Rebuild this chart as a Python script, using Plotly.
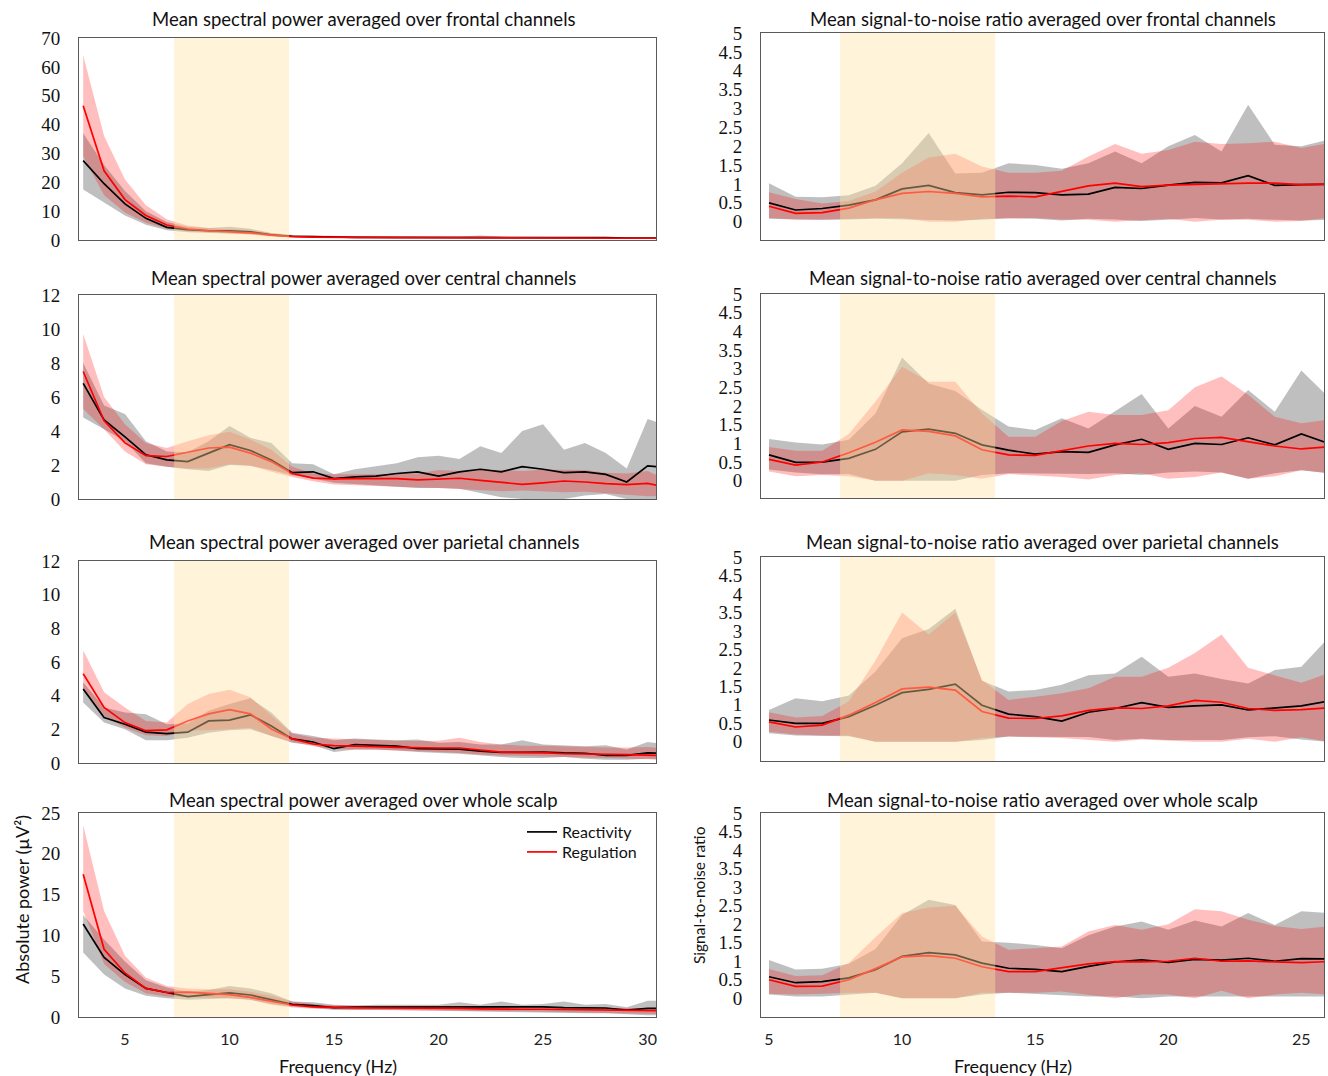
import plotly.graph_objects as go

# Frequency grids (Hz)
FREQ_POWER = list(range(3, 32))
FREQ_SNR = list(range(5, 27))
POWER_XTICKS = [5, 10, 15, 20, 25, 30]
SNR_XTICKS = [5, 10, 15, 20, 25]
ALPHA_POWER = (7.35, 12.85)
ALPHA_SNR = (7.67, 13.5)

# ---------------- Spectral power (µV²) ----------------
pow_frontal_react = [27.5, 19.5, 12.5, 7.5, 4.4, 3.6, 3.2, 3.2, 2.8, 1.8, 1.3, 1.1, 1.0, 0.9, 0.9, 0.9, 0.9, 0.9, 0.9, 0.9, 1.0, 0.9, 0.9, 0.8, 0.8, 0.8, 0.7, 0.6, 0.6]
pow_frontal_react_lo = [17.5, 13.0, 8.5, 5.3, 3.4, 2.7, 2.4, 2.3, 2.0, 1.3, 1.0, 0.8, 0.75, 0.7, 0.7, 0.7, 0.7, 0.7, 0.7, 0.7, 0.7, 0.7, 0.7, 0.65, 0.6, 0.6, 0.55, 0.5, 0.5]
pow_frontal_react_hi = [37.0, 26.0, 17.0, 10.0, 6.2, 4.6, 4.2, 4.6, 3.9, 2.4, 1.7, 1.5, 1.3, 1.2, 1.1, 1.1, 1.1, 1.2, 1.2, 1.6, 1.2, 1.1, 1.1, 1.0, 1.0, 1.0, 0.9, 0.8, 0.8]
pow_frontal_reg = [46.5, 24.0, 14.0, 8.5, 5.2, 3.8, 3.2, 2.9, 2.5, 1.7, 1.2, 1.0, 0.9, 0.8, 0.8, 0.8, 0.8, 0.8, 0.8, 0.8, 0.8, 0.8, 0.8, 0.8, 0.7, 0.7, 0.7, 0.6, 0.6]
pow_frontal_reg_lo = [29.0, 15.5, 9.5, 6.0, 4.0, 3.0, 2.5, 2.2, 1.9, 1.2, 0.9, 0.75, 0.7, 0.65, 0.6, 0.6, 0.6, 0.6, 0.6, 0.55, 0.6, 0.6, 0.55, 0.55, 0.5, 0.5, 0.5, 0.45, 0.45]
pow_frontal_reg_hi = [64.0, 36.0, 21.0, 12.0, 7.2, 5.0, 4.2, 3.8, 3.3, 2.3, 1.6, 1.3, 1.2, 1.1, 1.0, 1.0, 1.0, 1.0, 1.0, 1.1, 1.0, 1.0, 1.0, 1.0, 0.9, 0.9, 0.9, 0.8, 0.8]

pow_central_react = [6.8, 4.65, 3.65, 2.6, 2.3, 2.2, 2.7, 3.2, 2.85, 2.3, 1.55, 1.6, 1.2, 1.3, 1.35, 1.5, 1.6, 1.35, 1.6, 1.75, 1.6, 1.9, 1.75, 1.55, 1.6, 1.45, 1.0, 1.95, 1.85]
pow_central_react_lo = [4.8, 4.1, 3.4, 2.1, 1.9, 1.75, 1.65, 2.0, 1.95, 1.7, 1.4, 1.2, 0.95, 0.85, 0.8, 0.72, 0.65, 0.65, 0.6, 0.35, 0.1, 0.0, 0.0, 0.0, 0.2, 0.3, 0.0, 0.0, 0.0]
pow_central_react_hi = [8.0, 5.5, 5.0, 3.4, 2.8, 2.75, 3.4, 4.3, 3.6, 3.3, 2.1, 2.05, 1.45, 1.75, 1.92, 2.1, 2.45, 2.55, 2.35, 3.1, 2.7, 4.0, 4.4, 2.9, 3.3, 2.7, 1.8, 4.7, 4.3]
pow_central_reg = [7.5, 4.6, 3.3, 2.55, 2.5, 2.75, 3.0, 3.05, 2.7, 2.2, 1.5, 1.23, 1.18, 1.2, 1.22, 1.2, 1.12, 1.15, 1.22, 1.1, 0.98, 0.86, 0.95, 1.06, 1.0, 0.9, 0.85, 0.92, 0.65]
pow_central_reg_lo = [5.3, 4.1, 2.8, 2.05, 1.9, 1.8, 1.8, 2.05, 1.95, 1.6, 1.3, 1.05, 0.85, 0.78, 0.75, 0.72, 0.68, 0.65, 0.62, 0.52, 0.45, 0.5, 0.45, 0.4, 0.42, 0.35, 0.25, 0.16, 0.15]
pow_central_reg_hi = [9.7, 6.0, 4.4, 3.3, 3.0, 3.4, 3.75, 3.95, 3.5, 2.9, 1.9, 1.5, 1.45, 1.45, 1.45, 1.5, 1.5, 1.7, 1.65, 1.7, 1.7, 1.65, 1.72, 1.72, 1.7, 1.55, 1.5, 1.65, 1.1]

pow_parietal_react = [4.4, 2.7, 2.3, 1.83, 1.75, 1.83, 2.5, 2.55, 2.86, 2.2, 1.43, 1.25, 0.85, 1.1, 1.05, 1.0, 0.85, 0.83, 0.83, 0.7, 0.63, 0.63, 0.65, 0.6, 0.58, 0.45, 0.45, 0.6, 0.57]
pow_parietal_react_lo = [3.6, 2.4, 2.0, 1.35, 1.35, 1.5, 1.8, 1.95, 2.0, 1.6, 1.2, 1.05, 0.65, 0.8, 0.8, 0.75, 0.65, 0.6, 0.55, 0.45, 0.35, 0.3, 0.3, 0.35, 0.25, 0.2, 0.2, 0.25, 0.2]
pow_parietal_react_hi = [4.8, 3.3, 3.0, 2.9, 2.3, 2.35, 3.1, 3.5, 3.85, 3.0, 1.8, 1.6, 1.35, 1.45, 1.4, 1.35, 1.4, 1.2, 1.25, 1.1, 1.1, 1.35, 1.1, 1.05, 1.0, 1.05, 0.8, 1.25, 1.1]
pow_parietal_reg = [5.3, 3.3, 2.4, 1.92, 1.97, 2.5, 2.92, 3.17, 2.92, 2.02, 1.43, 1.13, 1.03, 0.98, 0.97, 0.93, 0.9, 0.89, 0.89, 0.75, 0.65, 0.63, 0.62, 0.55, 0.55, 0.52, 0.5, 0.47, 0.44]
pow_parietal_reg_lo = [4.3, 2.8, 2.1, 1.65, 1.6, 1.9, 1.95, 2.0, 2.1, 1.6, 1.25, 1.0, 0.85, 0.8, 0.78, 0.75, 0.7, 0.65, 0.6, 0.5, 0.45, 0.42, 0.4, 0.35, 0.33, 0.3, 0.28, 0.22, 0.2]
pow_parietal_reg_hi = [6.7, 4.2, 3.3, 2.5, 2.4, 3.5, 4.1, 4.35, 3.9, 2.8, 1.75, 1.5, 1.45, 1.38, 1.35, 1.32, 1.3, 1.32, 1.5, 1.25, 1.1, 1.03, 1.03, 0.98, 0.93, 0.92, 0.92, 0.95, 0.83]

pow_whole_react = [11.4, 7.3, 5.2, 3.5, 3.0, 2.5, 2.75, 2.95, 2.7, 2.1, 1.55, 1.4, 1.15, 1.2, 1.2, 1.2, 1.25, 1.2, 1.25, 1.2, 1.25, 1.2, 1.25, 1.15, 1.1, 1.1, 0.85, 1.05, 1.05]
pow_whole_react_lo = [7.9, 5.2, 3.5, 2.6, 2.3, 2.1, 2.2, 2.3, 2.1, 1.6, 1.3, 1.1, 0.9, 0.85, 0.85, 0.85, 0.8, 0.75, 0.7, 0.65, 0.6, 0.55, 0.5, 0.5, 0.45, 0.45, 0.35, 0.2, 0.2]
pow_whole_react_hi = [12.5, 9.5, 6.8, 4.5, 3.6, 3.1, 3.3, 3.8, 3.5, 2.9, 1.9, 1.8, 1.5, 1.4, 1.5, 1.5, 1.5, 1.5, 1.8, 1.5, 1.9, 1.5, 1.6, 1.9, 1.5, 1.6, 1.2, 2.0, 2.0]
pow_whole_reg = [17.5, 8.3, 5.4, 3.5, 3.0, 3.05, 2.9, 2.75, 2.4, 1.9, 1.47, 1.25, 1.15, 1.12, 1.1, 1.1, 1.08, 1.07, 1.05, 1.0, 0.95, 0.95, 0.95, 0.93, 0.9, 0.88, 0.85, 0.78, 0.75]
pow_whole_reg_lo = [13.0, 6.5, 4.3, 2.9, 2.5, 2.4, 2.35, 2.3, 2.1, 1.5, 1.15, 1.0, 0.9, 0.85, 0.85, 0.85, 0.8, 0.8, 0.75, 0.75, 0.7, 0.7, 0.65, 0.6, 0.6, 0.55, 0.5, 0.4, 0.35]
pow_whole_reg_hi = [23.5, 13.0, 7.5, 4.8, 3.8, 3.5, 3.4, 3.4, 3.1, 2.6, 1.9, 1.6, 1.4, 1.35, 1.35, 1.35, 1.3, 1.3, 1.3, 1.25, 1.2, 1.2, 1.2, 1.15, 1.15, 1.1, 1.1, 1.05, 1.0]

# ---------------- Signal-to-noise ratio ----------------
snr_frontal_react = [0.50, 0.31, 0.35, 0.44, 0.58, 0.87, 0.96, 0.77, 0.71, 0.78, 0.77, 0.71, 0.73, 0.91, 0.88, 0.97, 1.04, 1.03, 1.22, 0.96, 0.98, 0.99]
snr_frontal_react_lo = [0.08, 0.06, 0.05, 0.06, 0.08, 0.08, 0.05, 0.03, 0.05, 0.10, 0.08, 0.03, 0.08, 0.06, 0.02, 0.05, 0.10, 0.06, 0.08, 0.05, 0.03, 0.05]
snr_frontal_react_hi = [1.02, 0.66, 0.65, 0.70, 0.95, 1.55, 2.35, 1.28, 1.30, 1.55, 1.50, 1.40, 1.55, 1.86, 1.55, 2.00, 2.30, 1.86, 3.10, 2.04, 2.00, 2.17]
snr_frontal_reg = [0.41, 0.22, 0.24, 0.36, 0.58, 0.75, 0.80, 0.75, 0.66, 0.68, 0.66, 0.81, 0.95, 1.02, 0.93, 0.97, 0.99, 1.00, 1.02, 1.02, 0.98, 1.00]
snr_frontal_reg_lo = [0.10, 0.06, 0.05, 0.08, 0.10, 0.10, 0.00, 0.00, 0.08, 0.08, 0.10, 0.06, 0.05, 0.00, 0.03, 0.08, 0.00, 0.05, 0.05, 0.00, 0.02, 0.10]
snr_frontal_reg_hi = [0.78, 0.60, 0.48, 0.55, 0.80, 1.30, 1.70, 1.80, 1.46, 1.30, 1.30, 1.35, 1.73, 2.06, 1.80, 1.90, 2.12, 2.06, 2.08, 2.12, 1.95, 2.08]

snr_central_react = [0.69, 0.49, 0.50, 0.60, 0.84, 1.31, 1.38, 1.27, 0.96, 0.82, 0.71, 0.78, 0.76, 0.96, 1.11, 0.84, 1.00, 0.97, 1.15, 0.96, 1.25, 1.00]
snr_central_react_lo = [0.30, 0.22, 0.17, 0.18, 0.00, 0.00, 0.00, 0.00, 0.15, 0.20, 0.20, 0.18, 0.18, 0.20, 0.15, 0.22, 0.25, 0.22, 0.05, 0.20, 0.28, 0.20]
snr_central_react_hi = [1.12, 1.02, 0.97, 1.10, 1.80, 3.30, 2.60, 2.40, 1.90, 1.45, 1.36, 1.67, 1.40, 1.85, 2.32, 1.40, 2.00, 1.71, 2.43, 1.85, 2.95, 2.25]
snr_central_reg = [0.57, 0.42, 0.50, 0.75, 1.03, 1.36, 1.32, 1.20, 0.83, 0.69, 0.68, 0.80, 0.93, 1.00, 0.97, 1.02, 1.13, 1.16, 1.05, 0.93, 0.85, 0.91]
snr_central_reg_lo = [0.25, 0.12, 0.15, 0.12, 0.00, 0.00, 0.20, 0.15, 0.05, 0.18, 0.15, 0.10, 0.03, 0.15, 0.20, 0.05, 0.10, 0.22, 0.05, 0.12, 0.28, 0.20]
snr_central_reg_hi = [0.90, 0.80, 0.80, 1.25, 2.12, 3.05, 2.65, 2.65, 1.80, 1.18, 1.18, 1.60, 1.85, 1.76, 1.76, 1.89, 2.50, 2.79, 2.30, 1.71, 1.54, 1.63]

snr_parietal_react = [0.59, 0.50, 0.50, 0.68, 0.99, 1.33, 1.42, 1.56, 0.99, 0.75, 0.68, 0.56, 0.80, 0.90, 1.06, 0.93, 0.97, 1.00, 0.86, 0.92, 0.97, 1.10]
snr_parietal_react_lo = [0.23, 0.17, 0.15, 0.15, 0.00, 0.00, 0.00, 0.00, 0.05, 0.14, 0.15, 0.13, 0.13, 0.05, 0.08, 0.05, 0.05, 0.05, 0.12, 0.15, 0.06, 0.00]
snr_parietal_react_hi = [0.86, 1.18, 1.10, 1.25, 1.90, 2.80, 3.05, 3.60, 1.65, 1.36, 1.40, 1.54, 1.80, 1.85, 2.30, 1.76, 1.85, 1.70, 1.58, 1.94, 2.03, 2.80]
snr_parietal_reg = [0.54, 0.40, 0.45, 0.72, 1.06, 1.43, 1.48, 1.40, 0.82, 0.64, 0.63, 0.70, 0.85, 0.92, 0.90, 0.97, 1.12, 1.07, 0.90, 0.85, 0.87, 0.92]
snr_parietal_reg_lo = [0.27, 0.20, 0.17, 0.17, 0.00, 0.00, 0.00, 0.00, 0.10, 0.14, 0.12, 0.10, 0.06, 0.00, 0.06, 0.02, 0.00, 0.00, 0.08, 0.00, 0.12, 0.00]
snr_parietal_reg_hi = [0.80, 0.66, 0.70, 1.10, 2.20, 3.50, 2.90, 3.50, 1.67, 1.13, 1.22, 1.31, 1.45, 1.76, 1.76, 2.00, 2.40, 2.90, 2.00, 1.80, 1.60, 1.85]

snr_whole_react = [0.58, 0.42, 0.45, 0.55, 0.77, 1.13, 1.23, 1.17, 0.95, 0.81, 0.78, 0.72, 0.86, 0.98, 1.04, 0.97, 1.05, 1.03, 1.08, 1.00, 1.07, 1.06]
snr_whole_react_lo = [0.10, 0.05, 0.05, 0.10, 0.15, 0.00, 0.00, 0.00, 0.10, 0.15, 0.12, 0.08, 0.05, 0.05, 0.00, 0.05, 0.05, 0.05, 0.05, 0.05, 0.05, 0.05]
snr_whole_react_hi = [1.03, 0.78, 0.80, 0.93, 1.33, 2.25, 2.66, 2.52, 1.53, 1.50, 1.44, 1.35, 1.70, 1.94, 2.07, 1.85, 2.10, 1.94, 2.30, 1.98, 2.35, 2.30]
snr_whole_reg = [0.50, 0.32, 0.33, 0.50, 0.80, 1.12, 1.15, 1.08, 0.85, 0.72, 0.72, 0.82, 0.93, 0.99, 0.98, 1.00, 1.08, 1.00, 1.01, 0.98, 0.96, 0.99]
snr_whole_reg_lo = [0.12, 0.10, 0.12, 0.15, 0.15, 0.00, 0.00, 0.00, 0.15, 0.15, 0.15, 0.18, 0.10, 0.00, 0.10, 0.10, 0.00, 0.20, 0.00, 0.10, 0.15, 0.10]
snr_whole_reg_hi = [0.79, 0.60, 0.62, 0.95, 1.65, 2.30, 2.45, 2.50, 1.67, 1.31, 1.35, 1.40, 1.80, 1.98, 1.85, 2.00, 2.40, 2.35, 2.12, 1.95, 1.87, 1.94]

SNR_YTICKS = [0, 0.5, 1, 1.5, 2, 2.5, 3, 3.5, 4, 4.5, 5]

W, H = 1328, 1076
LEFT_DOMAIN = [79 / W, 656 / W]
RIGHT_DOMAIN = [761 / W, 1324 / W]


def ydom(top_px, bottom_px):
    return [1 - bottom_px / H, 1 - top_px / H]


panels = [
    dict(title="Mean spectral power averaged over frontal channels", kind="power",
         data=(pow_frontal_react, pow_frontal_react_lo, pow_frontal_react_hi,
               pow_frontal_reg, pow_frontal_reg_lo, pow_frontal_reg_hi),
         yrange=[0, 70], yticks=list(range(0, 71, 10)), ydomain=ydom(38, 240), title_y=19),
    dict(title="Mean signal-to-noise ratio averaged over frontal channels", kind="snr",
         data=(snr_frontal_react, snr_frontal_react_lo, snr_frontal_react_hi,
               snr_frontal_reg, snr_frontal_reg_lo, snr_frontal_reg_hi),
         yrange=[-0.485, 5], yticks=SNR_YTICKS, ydomain=ydom(33, 240), title_y=19),
    dict(title="Mean spectral power averaged over central channels", kind="power",
         data=(pow_central_react, pow_central_react_lo, pow_central_react_hi,
               pow_central_reg, pow_central_reg_lo, pow_central_reg_hi),
         yrange=[0, 12], yticks=list(range(0, 13, 2)), ydomain=ydom(295, 499), title_y=278),
    dict(title="Mean signal-to-noise ratio averaged over central channels", kind="snr",
         data=(snr_central_react, snr_central_react_lo, snr_central_react_hi,
               snr_central_reg, snr_central_reg_lo, snr_central_reg_hi),
         yrange=[-0.463, 5], yticks=SNR_YTICKS, ydomain=ydom(294, 498), title_y=278),
    dict(title="Mean spectral power averaged over parietal channels", kind="power",
         data=(pow_parietal_react, pow_parietal_react_lo, pow_parietal_react_hi,
               pow_parietal_reg, pow_parietal_reg_lo, pow_parietal_reg_hi),
         yrange=[0, 12], yticks=list(range(0, 13, 2)), ydomain=ydom(561, 763), title_y=542),
    dict(title="Mean signal-to-noise ratio averaged over parietal channels", kind="snr",
         data=(snr_parietal_react, snr_parietal_react_lo, snr_parietal_react_hi,
               snr_parietal_reg, snr_parietal_reg_lo, snr_parietal_reg_hi),
         yrange=[-0.52, 5], yticks=SNR_YTICKS, ydomain=ydom(557, 761), title_y=542),
    dict(title="Mean spectral power averaged over whole scalp", kind="power",
         data=(pow_whole_react, pow_whole_react_lo, pow_whole_react_hi,
               pow_whole_reg, pow_whole_reg_lo, pow_whole_reg_hi),
         yrange=[0, 25], yticks=list(range(0, 26, 5)), ydomain=ydom(813, 1017), title_y=800,
         bottom=True, legend=True),
    dict(title="Mean signal-to-noise ratio averaged over whole scalp", kind="snr",
         data=(snr_whole_react, snr_whole_react_lo, snr_whole_react_hi,
               snr_whole_reg, snr_whole_reg_lo, snr_whole_reg_hi),
         yrange=[-0.505, 5], yticks=SNR_YTICKS, ydomain=ydom(813, 1017), title_y=800,
         bottom=True),
]

GRAY_BAND = "rgba(0,0,0,0.25)"
RED_BAND = "rgba(255,0,0,0.25)"
ALPHA_FILL = "rgba(255,228,160,0.4)"
TITLE_FONT = dict(family="Lato", size=18.5, color="#111")
TICK_FONT = dict(family="Liberation Serif", size=19, color="#111")
XTICK_FONT = dict(family="Lato", size=16, color="#222")
LABEL_FONT = dict(family="Lato", size=18, color="#111")
LEGEND_FONT = dict(family="Lato", size=16, color="#111")

fig = go.Figure()
layout = {}
shapes = []
annotations = []

for i, p in enumerate(panels):
    k = i + 1
    xa = "x" if k == 1 else f"x{k}"
    ya = "y" if k == 1 else f"y{k}"
    is_power = p["kind"] == "power"
    xs = FREQ_POWER if is_power else FREQ_SNR
    react, react_lo, react_hi, reg, reg_lo, reg_hi = p["data"]

    # confidence bands (reactivity underneath, regulation on top)
    fig.add_trace(go.Scatter(x=xs + xs[::-1], y=react_hi + react_lo[::-1], fill="toself",
                             fillcolor=GRAY_BAND, line=dict(width=0), mode="lines",
                             hoverinfo="skip", showlegend=False, xaxis=xa, yaxis=ya))
    fig.add_trace(go.Scatter(x=xs + xs[::-1], y=reg_hi + reg_lo[::-1], fill="toself",
                             fillcolor=RED_BAND, line=dict(width=0), mode="lines",
                             hoverinfo="skip", showlegend=False, xaxis=xa, yaxis=ya))
    # group means; each legend entry gets its own legend box so the rows sit close together
    show = bool(p.get("legend"))
    fig.add_trace(go.Scatter(x=xs, y=react, mode="lines", name="Reactivity",
                             line=dict(color="black", width=1.7), showlegend=show,
                             legend="legend", xaxis=xa, yaxis=ya))
    fig.add_trace(go.Scatter(x=xs, y=reg, mode="lines", name="Regulation",
                             line=dict(color="#ff0000", width=1.7), showlegend=show,
                             legend="legend2", xaxis=xa, yaxis=ya))

    # alpha band highlight, drawn over the data
    band = ALPHA_POWER if is_power else ALPHA_SNR
    shapes.append(dict(type="rect", xref=xa, yref=f"{ya} domain", x0=band[0], x1=band[1],
                       y0=0, y1=1, fillcolor=ALPHA_FILL, line=dict(width=0), layer="above"))

    xdomain = LEFT_DOMAIN if is_power else RIGHT_DOMAIN
    xrange_ = [2.8, 30.4] if is_power else [4.7, 25.85]
    bottom = bool(p.get("bottom"))
    layout["xaxis" if k == 1 else f"xaxis{k}"] = dict(
        domain=xdomain, range=xrange_, anchor=ya, showgrid=False, zeroline=False,
        showline=True, mirror=True, linecolor="#5a5a5a", linewidth=1, ticks="",
        tickmode="array", tickvals=POWER_XTICKS if is_power else SNR_XTICKS,
        showticklabels=bottom, tickfont=XTICK_FONT, ticklabelstandoff=8,
        automargin=False)
    layout["yaxis" if k == 1 else f"yaxis{k}"] = dict(
        domain=p["ydomain"], range=p["yrange"], anchor=xa, showgrid=False, zeroline=False,
        showline=True, mirror=True, linecolor="#5a5a5a", linewidth=1, ticks="",
        tickmode="array", tickvals=p["yticks"], tickfont=TICK_FONT, ticklabelstandoff=14,
        automargin=False)

    cx = (xdomain[0] + xdomain[1]) / 2 - (4 / W if is_power else 0)
    annotations.append(dict(text=p["title"], x=cx, y=1 - p["title_y"] / H, xref="paper",
                            yref="paper", showarrow=False, xanchor="center", yanchor="middle",
                            font=TITLE_FONT))

# axis titles
annotations += [
    dict(text="Frequency (Hz)", x=338 / W, y=1 - 1066 / H, xref="paper", yref="paper",
         showarrow=False, xanchor="center", yanchor="middle", font=LABEL_FONT),
    dict(text="Frequency (Hz)", x=1013 / W, y=1 - 1066 / H, xref="paper", yref="paper",
         showarrow=False, xanchor="center", yanchor="middle", font=LABEL_FONT),
    dict(text="Absolute power (µV²)", x=22 / W, y=1 - 900 / H, xref="paper", yref="paper",
         showarrow=False, textangle=-90, xanchor="center", yanchor="middle", font=LABEL_FONT),
    dict(text="Signal-to-noise ratio", x=699 / W, y=1 - 895 / H, xref="paper", yref="paper",
         showarrow=False, textangle=-90, xanchor="center", yanchor="middle",
         font=dict(family="Lato", size=15.5, color="#111")),
]

legend_common = dict(x=522 / W, xanchor="left", yanchor="middle", bgcolor="rgba(0,0,0,0)",
                     borderwidth=0, font=LEGEND_FONT, itemwidth=30)

fig.update_layout(
    width=W, height=H, margin=dict(l=0, r=0, t=0, b=0, autoexpand=False),
    paper_bgcolor="white", plot_bgcolor="white",
    shapes=shapes, annotations=annotations,
    showlegend=True,
    legend=dict(y=1 - 832 / H, **legend_common),
    legend2=dict(y=1 - 852 / H, **legend_common),
    **layout,
)

fig.write_html("out.html")
